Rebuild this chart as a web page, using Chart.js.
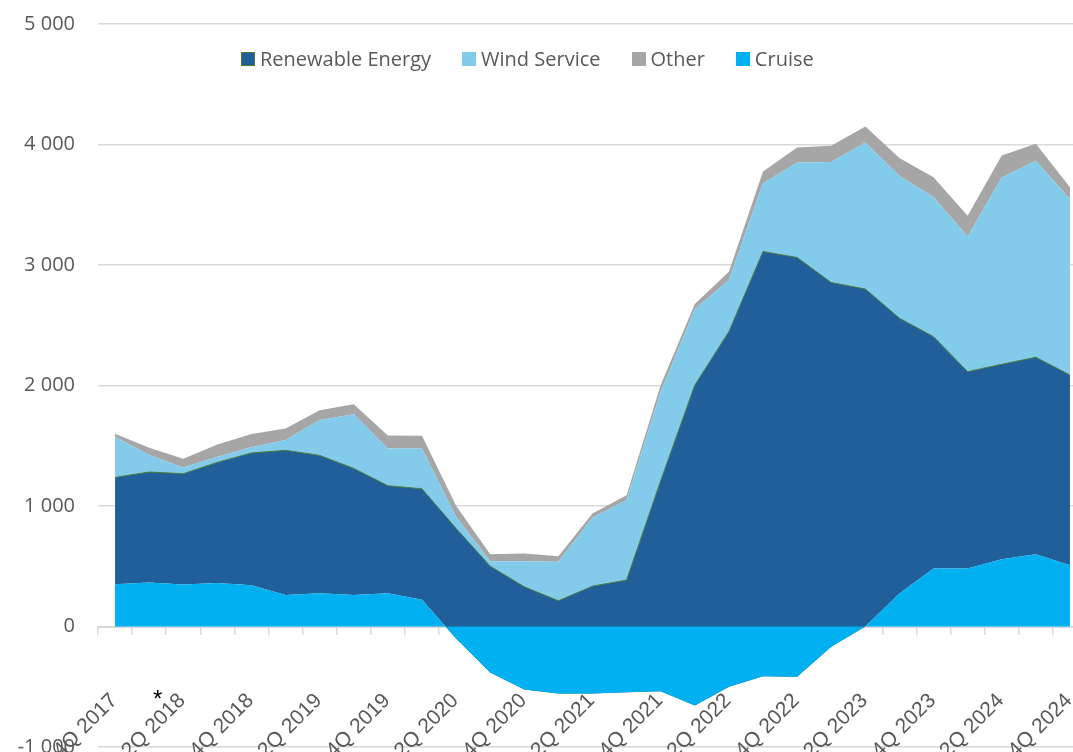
<!DOCTYPE html>
<html lang="en">
<head>
  <meta charset="UTF-8" />
  <title>Segment chart</title>
  <script src="https://cdn.jsdelivr.net/npm/chart.js"></script>
  <style>
    body {
      margin: 0;
      overflow: hidden;
      background: #fff;
    }

    #wrap {
      position: relative;
      width: 1073px;
      height: 752px;
      overflow: hidden;
    }

    #chartBox {
      position: absolute;
      left: 0;
      top: 0;
      width: 1100px;
      height: 780px;
    }

    #legend {
      position: absolute;
      left: 241px;
      top: 45px;
      display: flex;
      align-items: center;
      font-family: "Open Sans", sans-serif;
      font-size: 20px;
      color: #595959;
      white-space: nowrap;
    }

    .item {
      display: flex;
      align-items: center;
      margin-right: 31px;
    }

    .box {
      width: 14px;
      height: 14px;
      margin-right: 5px;
      box-sizing: border-box;
    }

    #note {
      position: absolute;
      left: 153px;
      top: 687px;
      font-family: "Liberation Sans", sans-serif;
      font-size: 24px;
      line-height: 24px;
      color: #000;
    }
  </style>
</head>
<body>
  <div id="wrap">
    <div id="chartBox">
      <canvas id="chart" width="1100" height="780"></canvas>
    </div>
    <div id="legend"></div>
    <div id="note">*</div>
  </div>

  <script>
    const quarters = [
      '4Q 2017', '1Q 2018', '2Q 2018', '3Q 2018', '4Q 2018', '1Q 2019', '2Q 2019', '3Q 2019',
      '4Q 2019', '1Q 2020', '2Q 2020', '3Q 2020', '4Q 2020', '1Q 2021', '2Q 2021', '3Q 2021',
      '4Q 2021', '1Q 2022', '2Q 2022', '3Q 2022', '4Q 2022', '1Q 2023', '2Q 2023', '3Q 2023',
      '4Q 2023', '1Q 2024', '2Q 2024', '3Q 2024', '4Q 2024'
    ];

    const cruise = [351, 365, 349, 360, 343, 262, 276, 262, 276, 221, -100, -382, -523, -557, -557,
      -545, -537, -655, -501, -413, -416, -169, 0, 274, 481, 481, 559, 600, 509];
    const renewable = [886, 917, 919, 1002, 1097, 1200, 1144, 1050, 892, 922, 814, 501, 329, 213, 335,
      385, 1210, 2003, 2447, 3112, 3062, 2854, 2801, 2284, 1924, 1634, 1617, 1634, 1578];
    const wind = [338, 141, 52, 47, 47, 85, 293, 449, 310, 335, 96, 41, 213, 324, 567,
      664, 739, 630, 429, 567, 789, 1000, 1216, 1182, 1158, 1121, 1550, 1631, 1460];
    const other = [25, 60, 72, 102, 110, 97, 81, 83, 108, 106, 92, 58, 64, 47, 36,
      41, 55, 44, 69, 97, 124, 135, 133, 147, 166, 172, 183, 141, 99];

    const yTicks = [-1000, 0, 1000, 2000, 3000, 4000, 5000];

    const gridColor = '#d9d9d9';
    const textColor = '#595959';

    function fmt(v) {
      return String(v).replace(/\B(?=(\d{3})+(?!\d))/g, ' ');
    }

    const datasets = [
      { label: 'Cruise', data: cruise, backgroundColor: '#00b0f0', borderWidth: 0, fill: 'origin' },
      { label: 'Renewable Energy', data: renewable, backgroundColor: '#215f9a', borderColor: '#4a7a3a', borderWidth: 1, fill: '-1' },
      { label: 'Wind Service', data: wind, backgroundColor: '#83cbeb', borderWidth: 0, fill: '-1' },
      { label: 'Other', data: other, backgroundColor: '#a6a6a6', borderWidth: 0, fill: '-1' }
    ];

    const chart = new Chart(document.getElementById('chart'), {
      type: 'line',
      data: {
        labels: quarters,
        datasets: datasets.map(d => ({ ...d, pointRadius: 0, pointHoverRadius: 0, tension: 0 }))
      },
      options: {
        responsive: false,
        animation: false,
        devicePixelRatio: 1,
        layout: { padding: { left: 0, top: 24, right: 13, bottom: 33 } },
        plugins: {
          legend: { display: false },
          tooltip: { enabled: false }
        },
        scales: {
          x: {
            type: 'category',
            offset: true,
            position: { y: 0 },
            z: 1,
            grid: {
              offset: true,
              drawOnChartArea: false,
              color: gridColor,
              lineWidth: 1.5,
              tickLength: 7
            },
            border: { display: true, color: gridColor, width: 2 },
            ticks: {
              autoSkip: false,
              minRotation: 45,
              maxRotation: 45,
              padding: 55,
              labelOffset: -1,
              color: textColor,
              font: { family: 'Liberation Sans', size: 21 },
              callback: (v, i) => (i % 2 === 0 ? quarters[i] : '')
            },
            afterFit: s => {
              s.height = 0;
              s.paddingLeft = 0;
              s.paddingRight = 0;
            }
          },
          y: {
            stacked: true,
            min: yTicks[0],
            max: yTicks[yTicks.length - 1],
            afterBuildTicks: s => {
              s.ticks = yTicks.map(v => ({ value: v }));
            },
            grid: { color: gridColor, lineWidth: 1.5, drawTicks: false },
            border: { display: false },
            ticks: {
              padding: 23,
              color: textColor,
              font: { family: 'Open Sans', size: 20 },
              callback: v => fmt(v)
            },
            afterFit: s => {
              s.width = 98;
              s.paddingTop = 0;
              s.paddingBottom = 0;
            }
          }
        }
      }
    });

    // legend built from the chart's datasets, in the reference order
    const legendOrder = ['Renewable Energy', 'Wind Service', 'Other', 'Cruise'];
    const legend = document.getElementById('legend');
    legendOrder.forEach(name => {
      const ds = chart.data.datasets.find(d => d.label === name);
      const item = document.createElement('div');
      item.className = 'item';
      const box = document.createElement('span');
      box.className = 'box';
      box.style.background = ds.backgroundColor;
      if (ds.borderWidth) box.style.border = '1.5px solid ' + ds.borderColor;
      const txt = document.createElement('span');
      txt.textContent = ds.label;
      item.appendChild(box);
      item.appendChild(txt);
      legend.appendChild(item);
    });
  </script>
</body>
</html>
